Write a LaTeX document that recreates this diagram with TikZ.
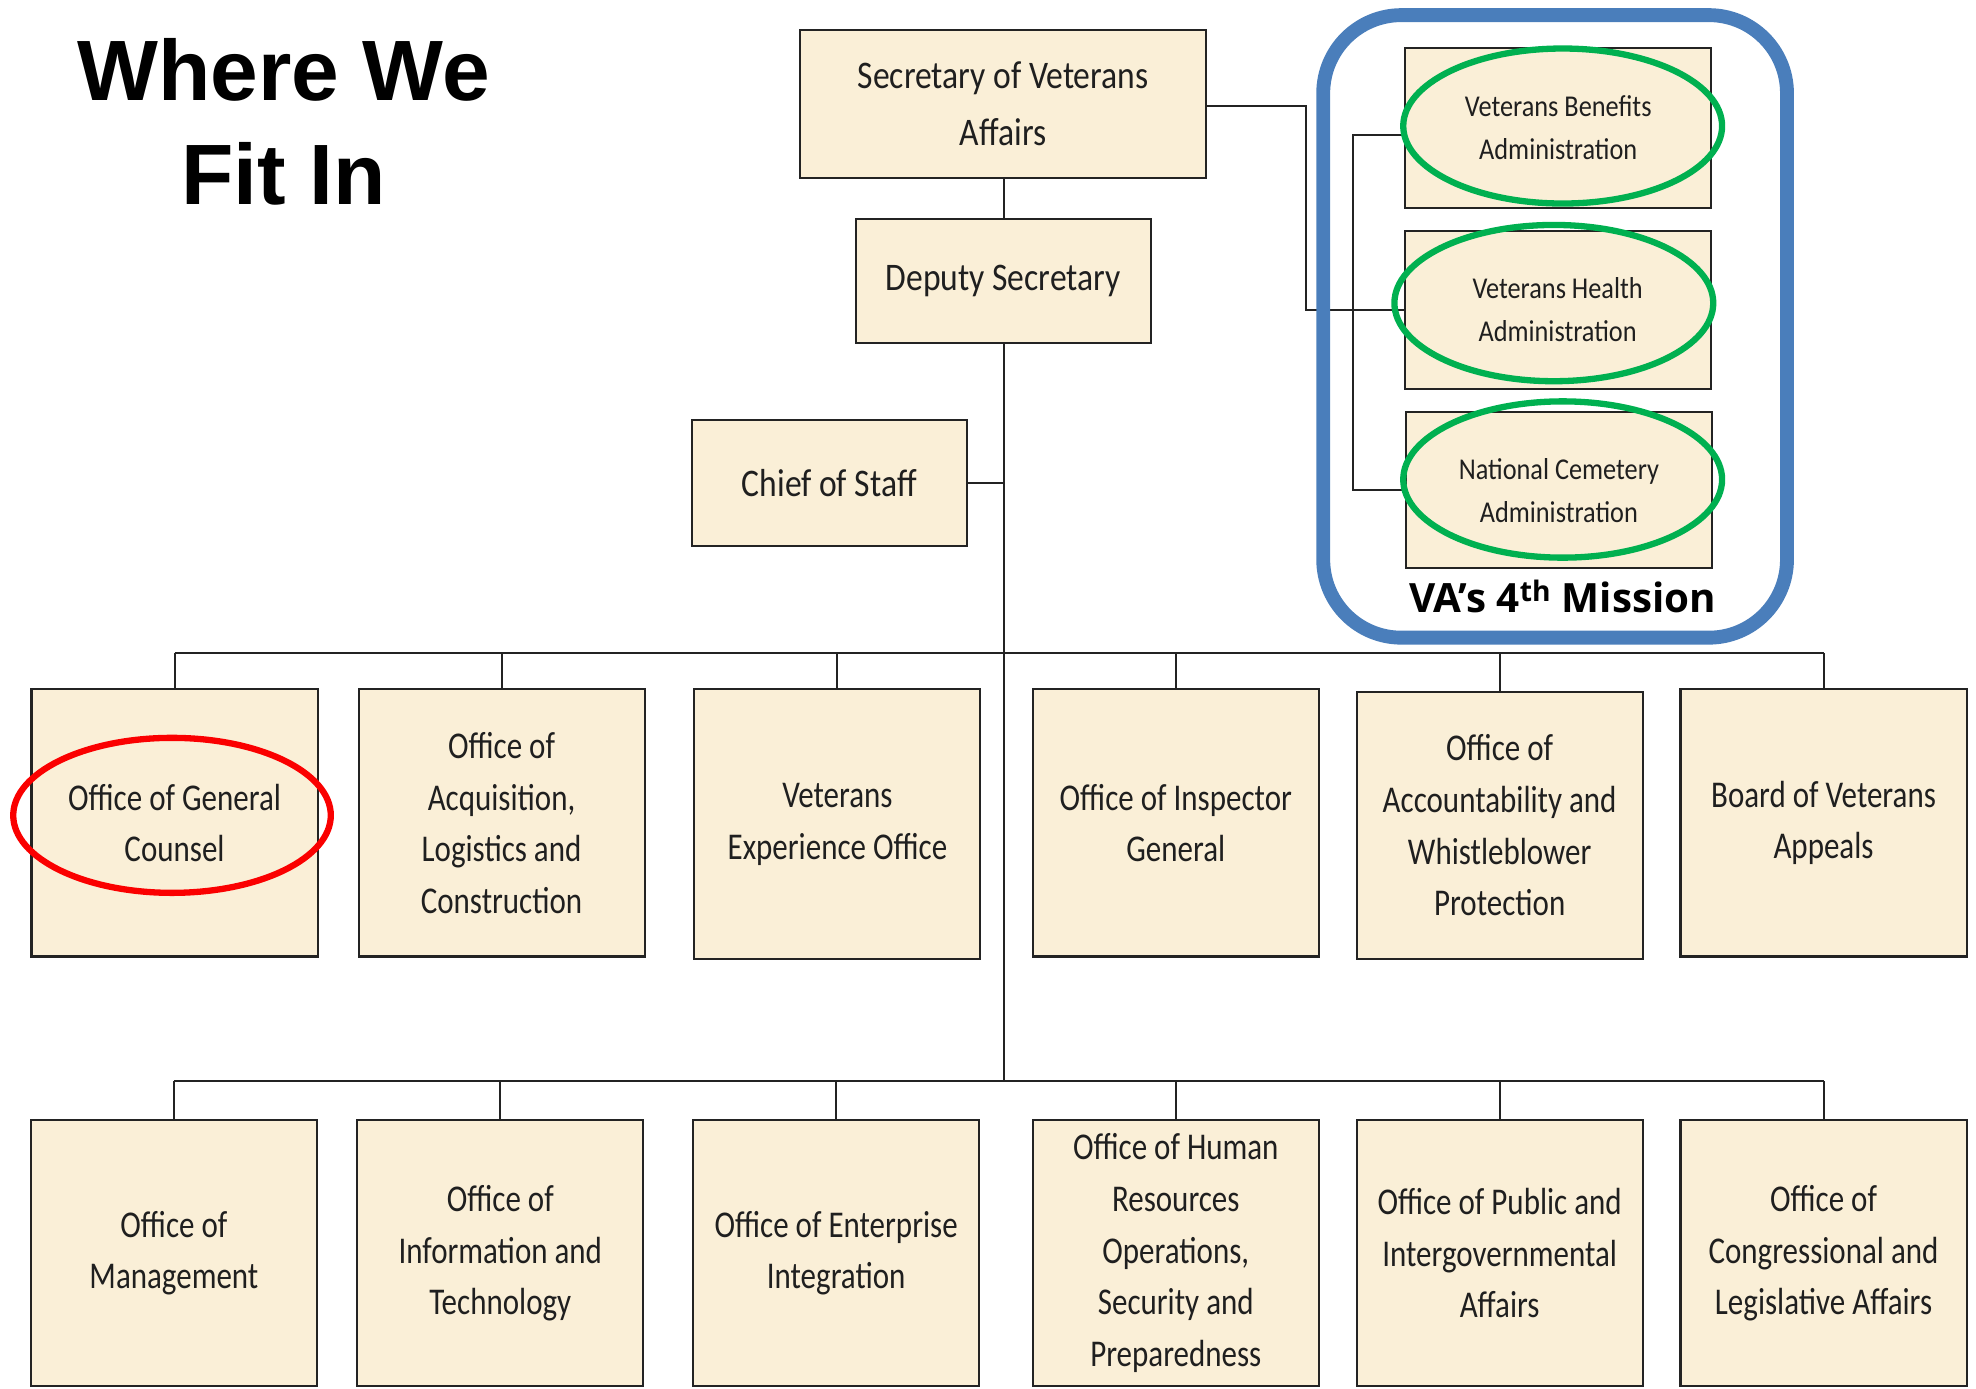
\documentclass[tikz,border=0pt]{standalone}
\usepackage{fontspec}
\usetikzlibrary{shapes.geometric,calc}
\newfontfamily\titlefont{Liberation Sans}
\newfontfamily\missionfont{Open Sans}
\newfontfamily\bigboxfont[FakeStretch=0.86]{Carlito}
\newfontfamily\rowboxfont[FakeStretch=0.82]{Carlito}
\newfontfamily\admboxfont[FakeStretch=0.87]{Carlito}
\definecolor{parch}{RGB}{250,239,215}
\definecolor{boxline}{RGB}{35,35,35}
\definecolor{vablue}{RGB}{74,126,187}
\definecolor{vagreen}{RGB}{0,176,80}
\definecolor{vared}{RGB}{250,0,0}
\begin{document}
\begin{tikzpicture}[x=1pt,y=-1pt,
  orgbox/.style={draw=boxline, line width=1.6pt, fill=parch, inner sep=0pt, outer sep=0pt, align=center, text=black!88},
  topbox/.style={orgbox, font=\bigboxfont\fontsize{31}{45}\selectfont},
  rowbox/.style={orgbox, minimum width=227pt, font=\rowboxfont\fontsize{30}{41}\selectfont},
  admbox/.style={orgbox, minimum width=243pt, font=\admboxfont\fontsize{24}{34}\selectfont},
  link/.style={draw=boxline, line width=1.6pt},
  ring/.style={ellipse, draw=#1, line width=5pt, inner sep=0pt, outer sep=0pt, fill=none},
  frame/.style={draw=vablue, line width=11pt, rounded corners=62pt, inner sep=0pt, fill=none}
]
\useasboundingbox (0,0) rectangle (1568,1102);

% title
\node[font=\titlefont\bfseries\fontsize{68}{82}\selectfont, anchor=base] (t1) at (225,80) {Where We};
\node[font=\titlefont\bfseries\fontsize{68}{82}\selectfont, anchor=base] (t2) at (225,162) {Fit In};

% top chain
\node[topbox, minimum width=322pt, minimum height=117pt] (sec) at (796,82.5) {Secretary of Veterans\\Affairs};
\node[topbox, minimum width=234pt, minimum height=98pt] (dep) at (796,223) {Deputy Secretary};
\node[topbox, minimum width=218pt, minimum height=100pt] (cos) at (658,383) {Chief of Staff};

% row 1
\node[rowbox, minimum height=212pt] (ogc) at (138.5,653) {Office of General\\Counsel};
\node[rowbox, minimum height=212pt] (oal) at (398,653) {Office of\\Acquisition,\\Logistics and\\Construction};
\node[rowbox, minimum height=214pt] (veo) at (664.5,654) {Veterans\\Experience Office};
\node[rowbox, minimum height=212pt] (oig) at (933,653) {Office of Inspector\\General};
\node[rowbox, minimum height=212pt] (oawp) at (1190,655) {Office of\\Accountability and\\Whistleblower\\Protection};
\node[rowbox, minimum height=212pt] (bva) at (1447,653) {Board of Veterans\\Appeals};

% row 2
\node[rowbox, minimum height=211pt] (om) at (138,994.5) {Office of\\Management};
\node[rowbox, minimum height=211pt] (oit) at (397,994.5) {Office of\\Information and\\Technology};
\node[rowbox, minimum height=211pt] (oei) at (663.5,994.5) {Office of Enterprise\\Integration};
\node[rowbox, minimum height=211pt] (hr) at (933,994.5) {Office of Human\\Resources\\Operations,\\Security and\\Preparedness};
\node[rowbox, minimum height=211pt] (pia) at (1190,994.5) {Office of Public and\\Intergovernmental\\Affairs};
\node[rowbox, minimum height=211pt] (ocl) at (1447,994.5) {Office of\\Congressional and\\Legislative Affairs};

% administrations
\node[admbox, minimum height=127pt] (vba) at (1236.5,101.5) {Veterans Benefits\\Administration};
\node[admbox, minimum height=126pt] (vha) at (1236,246) {Veterans Health\\Administration};
\node[admbox, minimum height=124pt] (nca) at (1237,389) {National Cemetery\\Administration};

% connectors
\coordinate (b1) at (797,518);
\coordinate (b2) at (797,858);
\coordinate (j) at (1036,0);
\coordinate (k) at (1074,0);
\draw[link] (sec.south -| b1) -- (dep.north -| b1);
\draw[link] (dep.south -| b1) -- (b2);
\draw[link] (cos.east) -- (cos.east -| b1);
\draw[link] (ogc.north |- b1) -- (bva.north |- b1);
\draw[link] (om.north |- b2) -- (ocl.north |- b2);
\foreach \n in {ogc,oal,veo,oig,oawp,bva} \draw[link] (\n.north) -- (\n.north |- b1);
\foreach \n in {om,oit,oei,hr,pia,ocl} \draw[link] (\n.north) -- (\n.north |- b2);
\draw[link] ([yshift=-1.5pt]sec.east) -| (j |- vha.west) -- (vha.west);
\draw[link] ([yshift=-6pt]vba.west) -| (k |- nca.west) -- (nca.west);

% mission frame
\node[frame, minimum width=368pt, minimum height=494pt] (fr) at (1234,259) {};
\node[font=\missionfont\bfseries\fontsize{32}{32}\selectfont, anchor=base, text=black] (mis) at (1240,486) {VA’s 4\textsuperscript{th} Mission};

% highlight rings
\node[ring=vagreen, minimum width=253pt, minimum height=123pt] (r1) at (1240,100) {};
\node[ring=vagreen, minimum width=253pt, minimum height=124pt] (r2) at (1233,240.5) {};
\node[ring=vagreen, minimum width=253pt, minimum height=124pt] (r3) at (1240,380.5) {};
\node[ring=vared, minimum width=252pt, minimum height=123pt] (r4) at (136.5,647) {};
\end{tikzpicture}
\end{document}
